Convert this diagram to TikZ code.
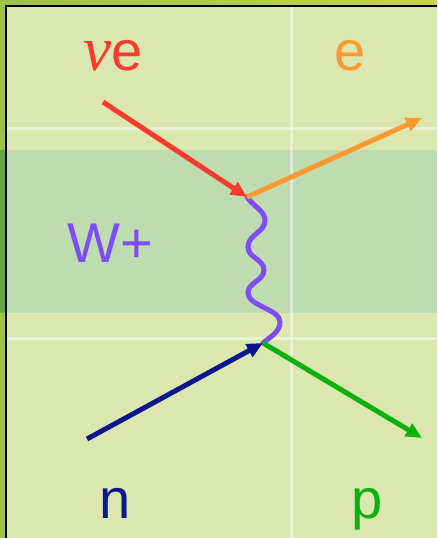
\documentclass[tikz,border=0pt]{standalone}
\usepackage{fontspec}
\setmainfont{Liberation Sans}
\newfontfamily\greekfont{Liberation Serif}
\definecolor{frameGreen}{HTML}{9DC24C}
\definecolor{frameDeep}{HTML}{62A846}
\definecolor{frameTop}{HTML}{C4D448}
\definecolor{slideBg}{HTML}{DCE7B0}
\definecolor{bandBg}{HTML}{BFDCB1}
\definecolor{nuRed}{HTML}{F73B2D}
\definecolor{eOrange}{HTML}{FF9A33}
\definecolor{wPurple}{HTML}{7E4DF5}
\definecolor{nBlue}{HTML}{0B168F}
\definecolor{pGreen}{HTML}{0DB10D}
\usetikzlibrary{arrows.meta}

\begin{document}
\begin{tikzpicture}[x=0.02cm, y=-0.02cm,
    particle/.style={line width=0.1cm, -{Triangle[length=0.32cm, width=0.28cm]}},
    boson/.style={line width=0.1cm, wPurple, line cap=round},
    plabel/.style={anchor=base, font=\fontsize{31.9pt}{36pt}\selectfont},
    gridline/.style={white, opacity=0.45, line width=0.06cm}]
    \useasboundingbox (0,0) rectangle (437,538);

    % ══════════════════════════════════════════════
    % ══ FONDO DE LA DIAPOSITIVA ══
    % ══════════════════════════════════════════════

    % Marco exterior
    \shade[left color=frameGreen, right color=frameTop] (0,0) rectangle (437,6);
    \fill[frameGreen] (0,6) rectangle (6,538);
    \fill[frameDeep] (0,150) rectangle (6,313);

    % Fondo interior y franja central
    \fill[slideBg] (6,6) rectangle (437,538);
    \fill[bandBg] (7,150) rectangle (437,313);

    % Lineas claras de la rejilla
    \draw[gridline] (7,128) -- (437,128);
    \draw[gridline] (7,338) -- (437,338);
    \draw[gridline] (291,7) -- (291,538);

    % Borde negro
    \draw[black, line width=0.04cm] (6,538) -- (6,6) -- (437,6);

    % ══════════════════════════════════════════════
    % ══ DIAGRAMA DE FEYNMAN ══
    % ══════════════════════════════════════════════

    % Vertices y extremos libres
    \coordinate (top) at (247,197);
    \coordinate (bottom) at (263,343);
    \coordinate (nuIn) at (103,102);
    \coordinate (eOut) at (422,118);
    \coordinate (nIn) at (87,439);
    \coordinate (pOut) at (422,438);

    % Boson W+ (linea ondulada)
    \draw[boson] (top) .. controls (252,205) and (265,211) .. (265,220)
        .. controls (265,233) and (248,234) .. (248,247)
        .. controls (248,258) and (264,259) .. (264,270)
        .. controls (264,281) and (248,282) .. (248,293)
        .. controls (248,306) and (280,309) .. (280,322)
        .. controls (280,332) and (270,337) .. (bottom);

    % Lineas de las particulas
    \draw[particle, nuRed] (nuIn) -- (top);
    \draw[particle, eOrange] (top) -- (eOut);
    \draw[particle, nBlue] (nIn) -- (bottom);
    \draw[particle, pGreen] (bottom) -- (pOut);

    % Etiquetas
    \node[plabel, nuRed] (nuLabel) at (113,70) {{\greekfont\itshape\fontsize{36pt}{40pt}\selectfont ν}e};
    \node[plabel, eOrange] (eLabel) at (350,70) {e};
    \node[plabel, wPurple] (wLabel) at (110,262) {W+};
    \node[plabel, nBlue] (nLabel) at (115,518) {n};
    \node[plabel, pGreen] (pLabel) at (367,518) {p};

\end{tikzpicture}
\end{document}
